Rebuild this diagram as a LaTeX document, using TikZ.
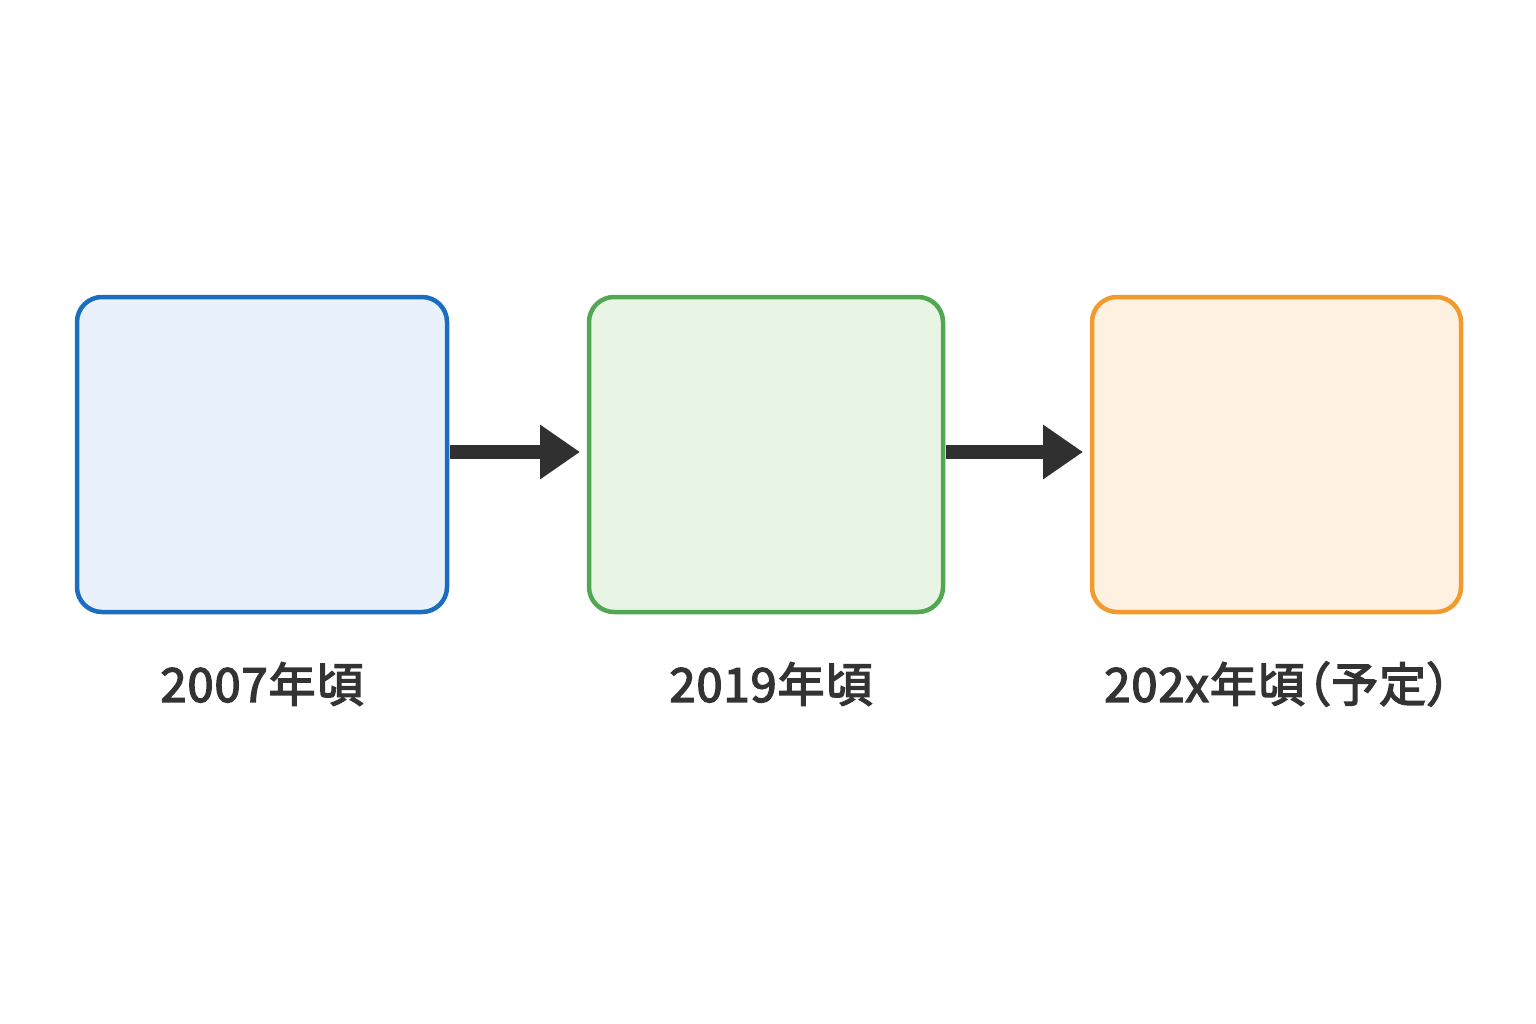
\documentclass[tikz,border=0pt]{standalone}
\usepackage{fontspec}
\setmainfont{Noto Sans CJK JP}[FakeBold=3]
\newfontfamily\lblfont{Noto Sans CJK JP}[FakeBold=3, LetterSpace=2]
\newfontfamily\haltfont{Noto Sans CJK JP}[FakeBold=3, RawFeature=+halt]
\usetikzlibrary{arrows.meta}
\definecolor{bluebd}{HTML}{1A6DBF}
\definecolor{bluefl}{HTML}{E8F1FC}
\definecolor{greenbd}{HTML}{52A852}
\definecolor{greenfl}{HTML}{E8F5E5}
\definecolor{orangebd}{HTML}{F39A2E}
\definecolor{orangefl}{HTML}{FEF1E1}
\definecolor{arrowc}{HTML}{303030}
\definecolor{textc}{HTML}{333333}
\begin{document}
\begin{tikzpicture}[x=1pt,y=-1pt,
  stagebox/.style={draw, line width=4.5pt, rounded corners=25pt},
  lbl/.style={text=textc, font=\fontsize{47}{54}\lblfont, inner sep=0pt, anchor=center},
  conn/.style={draw=arrowc, line width=14pt, -{Triangle[length=40pt,width=52pt]}, shorten >=7pt, shorten <=1pt}]
\useasboundingbox[fill=white] (0,0) rectangle (1536,1024);
\draw[stagebox, draw=bluebd, fill=bluefl] (77,297) rectangle (447,612);
\draw[stagebox, draw=greenbd, fill=greenfl] (589,297) rectangle (943,612);
\draw[stagebox, draw=orangebd, fill=orangefl] (1092,297) rectangle (1461,612);
\coordinate (b1e) at (449,452);
\coordinate (b2w) at (587,452);
\coordinate (b2e) at (945,452);
\coordinate (b3w) at (1090,452);
\draw[conn] (b1e) -- (b2w);
\draw[conn] (b2e) -- (b3w);
\node[lbl] (l1) at (262,684) {2007年頃};
\node[lbl] (l2) at (771,684) {2019年頃};
\node[lbl] (l3) at (1277,684) {202x年頃\kern3pt{\haltfont（}予定{\haltfont）}};
\end{tikzpicture}
\end{document}
